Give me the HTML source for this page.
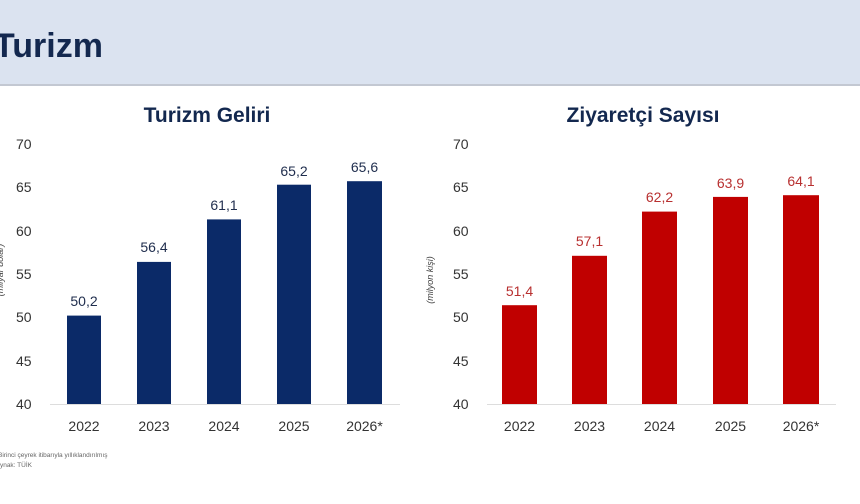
<!DOCTYPE html>
<html><head><meta charset="utf-8"><style>
html,body{margin:0;padding:0;background:#fff;}
svg{display:block;font-family:"Liberation Sans",sans-serif;}
</style></head><body>
<svg width="860" height="504" viewBox="0 0 860 504" xmlns="http://www.w3.org/2000/svg">
<rect x="0" y="0" width="860" height="84" fill="#dbe3f0"/>
<rect x="0" y="84" width="860" height="2" fill="#c3c8d2"/>
<text x="-6" y="57" font-size="34" font-weight="bold" fill="#13284f">Turizm</text>

<text x="207" y="122" font-size="21" font-weight="bold" fill="#13284f" text-anchor="middle">Turizm Geliri</text>
<text x="643" y="122" font-size="21" font-weight="bold" fill="#13284f" text-anchor="middle">Ziyaretçi Sayısı</text>

<g font-size="14" fill="#333">
<text x="16" y="149">70</text><text x="16" y="192">65</text><text x="16" y="236">60</text><text x="16" y="279">55</text><text x="16" y="322">50</text><text x="16" y="366">45</text><text x="16" y="409">40</text>
<text x="453" y="149">70</text><text x="453" y="192">65</text><text x="453" y="236">60</text><text x="453" y="279">55</text><text x="453" y="322">50</text><text x="453" y="366">45</text><text x="453" y="409">40</text>
</g>
<text transform="translate(3,270) rotate(-90)" font-size="9" font-style="italic" fill="#444" text-anchor="middle">(milyar dolar)</text>
<text transform="translate(433,280) rotate(-90)" font-size="9" font-style="italic" fill="#444" text-anchor="middle">(milyon kişi)</text>

<line x1="50" y1="404.5" x2="400" y2="404.5" stroke="#ddd" stroke-width="1"/>
<line x1="487" y1="404.5" x2="836" y2="404.5" stroke="#ddd" stroke-width="1"/>

<g fill="#0b2a68">
<rect x="67" y="315.6" width="34" height="88.4"/>
<rect x="137" y="261.9" width="34" height="142.1"/>
<rect x="207" y="219.4" width="34" height="184.6"/>
<rect x="277" y="184.7" width="34" height="219.3"/>
<rect x="347" y="181.2" width="35" height="222.8"/>
</g>
<g font-size="14" fill="#1f2d4d" text-anchor="middle">
<text x="84" y="306">50,2</text><text x="154" y="252">56,4</text><text x="224" y="210">61,1</text><text x="294" y="176">65,2</text><text x="364.5" y="172">65,6</text>
</g>
<g fill="#c00000">
<rect x="502" y="305.2" width="35" height="98.8"/>
<rect x="572" y="255.8" width="35" height="148.2"/>
<rect x="642" y="211.6" width="35" height="192.4"/>
<rect x="713" y="196.9" width="35" height="207.1"/>
<rect x="783" y="195.2" width="36" height="208.8"/>
</g>
<g font-size="14" fill="#b83030" text-anchor="middle">
<text x="519.5" y="296">51,4</text><text x="589.5" y="246">57,1</text><text x="659.5" y="202">62,2</text><text x="730.5" y="188">63,9</text><text x="801" y="186">64,1</text>
</g>
<g font-size="14" fill="#333" text-anchor="middle">
<text x="84" y="431">2022</text><text x="154" y="431">2023</text><text x="224" y="431">2024</text><text x="294" y="431">2025</text><text x="364.5" y="431">2026*</text>
<text x="519.5" y="431">2022</text><text x="589.5" y="431">2023</text><text x="659.5" y="431">2024</text><text x="730.5" y="431">2025</text><text x="801" y="431">2026*</text>
</g>
<text x="-2" y="457" font-size="6.5" fill="#666">Birinci çeyrek itibarıyla yıllıklandırılmış</text>
<text x="-8" y="467" font-size="6.5" fill="#666">Kaynak: TÜİK</text>
</svg>
</body></html>
